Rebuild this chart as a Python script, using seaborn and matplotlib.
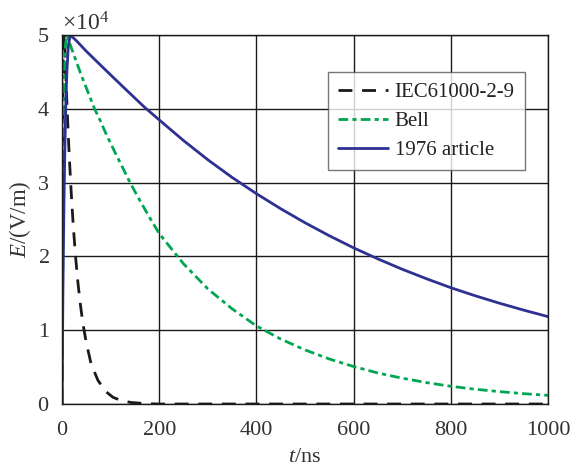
import numpy as np
import pandas as pd
import matplotlib
matplotlib.use("Agg")
import matplotlib.pyplot as plt
import seaborn as sns
from matplotlib.ticker import ScalarFormatter

# ---- data (E in units of 1e4 V/m, t in ns) ----
iec_t = [0, 1, 2, 3, 5, 6, 8, 11, 15, 19, 23, 28, 33, 38, 43, 50, 60, 74, 90,
         105, 125, 143, 170, 200, 400, 600, 800, 1000]
iec_e = [0, 2.5, 4.3, 4.9, 5.0, 4.8, 4.43, 3.93, 3.35, 2.86, 2.43, 1.99, 1.63,
         1.34, 1.09, 0.83, 0.54, 0.32, 0.17, 0.09, 0.04, 0.02, 0.006, 0.0,
         0.0, 0.0, 0.0, 0.0]

bell_t = [0, 1, 2, 3, 5, 7, 10, 20, 30, 40, 55, 67, 78, 90, 109, 125, 140, 160,
          180, 200, 250, 300, 350, 400, 450, 500, 550, 600, 650, 700, 750, 800,
          850, 900, 950, 1000]
bell_e = [0, 1.2, 2.5, 3.4, 4.5, 4.85, 5.0, 4.81, 4.63, 4.45, 4.2, 4.0, 3.85,
          3.67, 3.41, 3.2, 3.0, 2.76, 2.53, 2.31, 1.9, 1.56, 1.29, 1.058, 0.88,
          0.733, 0.61, 0.508, 0.42, 0.35, 0.29, 0.24, 0.20, 0.168, 0.14, 0.117]

art_t = [0, 1, 2, 4, 6, 8, 10, 13, 17, 30, 50, 78, 100, 130, 170, 200, 250, 300,
         350, 400, 450, 500, 550, 600, 650, 700, 750, 800, 850, 900, 950, 1000]
art_e = [0, 0.8, 1.6, 2.7, 3.5, 4.1, 4.5, 4.85, 5.0, 4.92, 4.78, 4.6, 4.46,
         4.27, 4.02, 3.85, 3.57, 3.31, 3.07, 2.85, 2.646, 2.456, 2.28, 2.116,
         1.966, 1.826, 1.697, 1.576, 1.467, 1.366, 1.272, 1.184]

labels = ["IEC61000-2-9", "Bell", "1976 article"]
x_ticks = [0, 200, 400, 600, 800, 1000]
y_ticks = [0, 1, 2, 3, 4, 5]

sns.set_theme(style="whitegrid")
plt.rcParams["font.family"] = ["Liberation Serif", "DejaVu Serif"]
plt.rcParams["mathtext.fontset"] = "custom"
plt.rcParams["mathtext.rm"] = "Liberation Serif"
plt.rcParams["mathtext.it"] = "Liberation Serif:italic"

fig = plt.figure(figsize=(5.77, 4.68), dpi=100)
ax = fig.add_axes([62 / 577, 1 - 404 / 468, (548 - 62) / 577, (404 - 35) / 468])

black = "#1a1a1a"
green = "#00a651"
blue = "#2e3192"

sns.lineplot(x=iec_t, y=np.array(iec_e) * 1e4, ax=ax, color=black,
             linewidth=2.0, linestyle=(0, (5, 3.5)), label=labels[0])
sns.lineplot(x=bell_t, y=np.array(bell_e) * 1e4, ax=ax, color=green,
             linewidth=2.0, linestyle=(0, (3.5, 1.5, 1.5, 1.5)), label=labels[1])
sns.lineplot(x=art_t, y=np.array(art_e) * 1e4, ax=ax, color=blue,
             linewidth=2.0, linestyle="-", label=labels[2])

ax.set_xlim(0, 1000)
ax.set_ylim(0, 5e4)
ax.set_xticks(x_ticks)
ax.set_yticks([v * 1e4 for v in y_ticks])
fmt = ScalarFormatter(useMathText=True)
fmt.set_powerlimits((0, 0))
ax.yaxis.set_major_formatter(fmt)
ax.yaxis.get_offset_text().set_fontsize(17)
ax.yaxis.get_offset_text().set_color("#333333")

ax.set_facecolor("white")
ax.grid(True, color="#1a1a1a", linewidth=1.0, linestyle="-")
for s in ax.spines.values():
    s.set_visible(True)
    s.set_color("#1a1a1a")
    s.set_linewidth(1.0)
ax.tick_params(axis="y", labelsize=16, colors="#1a1a1a", labelcolor="#333333",
               direction="in", length=0, pad=9)
ax.tick_params(axis="x", labelsize=16, colors="#1a1a1a", labelcolor="#333333",
               direction="in", length=0, pad=12)

ax.set_xlabel(r"$t$/ns", fontsize=16, color="#333333", labelpad=6)
ax.set_ylabel(r"$E$/(V/m)", fontsize=16.5, color="#333333", labelpad=3)

leg = ax.legend(loc="upper right", bbox_to_anchor=(0.953, 0.90), fontsize=15,
                frameon=True, fancybox=False, edgecolor="#555555",
                handlelength=2.4, handletextpad=0.3, borderpad=0.5,
                labelspacing=0.45, borderaxespad=0)
leg.get_frame().set_linewidth(1.0)
for t in leg.get_texts():
    t.set_color("#222222")

fig.savefig("out.png", dpi=100)
